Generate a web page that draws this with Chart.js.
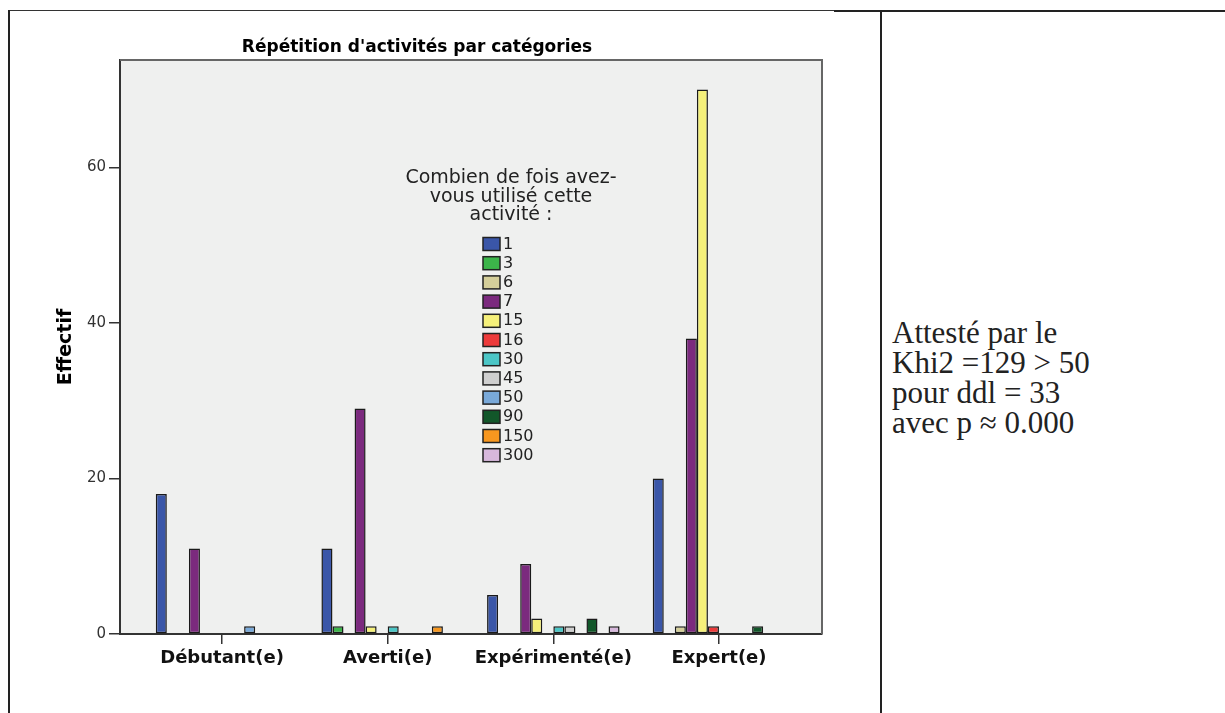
<!DOCTYPE html>
<html lang="fr">
<head>
  <meta charset="UTF-8">
  <title>Répétition d'activités par catégories</title>
  <script src="https://cdn.jsdelivr.net/npm/chart.js"></script>
  <style>
    body { margin: 0; background: #fff; width: 1225px; height: 713px; position: relative; overflow: hidden; }
    .line { position: absolute; background: #222; }
    #chart { position: absolute; left: 12px; top: 12px; }
    #note { position: absolute; left: 892px; top: 318px; font-family: 'Liberation Serif', serif; font-size: 31px; line-height: 30px; color: #222; }
  </style>
</head>
<body>
  <div class="line" style="left:10px;top:10px;width:824px;height:1px;background:#333"></div>
  <div class="line" style="left:834px;top:10px;width:391px;height:2px"></div>
  <div class="line" style="left:8px;top:10px;width:2px;height:703px"></div>
  <div class="line" style="left:880px;top:11px;width:2px;height:702px"></div>

  <canvas id="chart" width="820" height="700"></canvas>

  <div id="note">Attesté par le<br>Khi2 =129 &gt; 50<br>pour ddl = 33<br>avec p ≈ 0.000</div>

  <script>
    const categories = ['Débutant(e)', 'Averti(e)', 'Expérimenté(e)', 'Expert(e)'];
    const seriesNames = ['1', '3', '6', '7', '15', '16', '30', '45', '50', '90', '150', '300'];

    const s1 = [18, 11, 5, 20];
    const s3 = [0, 1, 0, 0];
    const s6 = [0, 0, 0, 1];
    const s7 = [11, 29, 9, 38];
    const s15 = [0, 1, 2, 70];
    const s16 = [0, 0, 0, 1];
    const s30 = [0, 1, 1, 0];
    const s45 = [0, 0, 1, 0];
    const s50 = [1, 0, 0, 0];
    const s90 = [0, 0, 2, 1];
    const s150 = [0, 1, 0, 0];
    const s300 = [0, 0, 1, 0];

    const yTicks = [0, 20, 40, 60];

    const seriesValues = [s1, s3, s6, s7, s15, s16, s30, s45, s50, s90, s150, s300];
    const colors = ['#3a56a8', '#3cb54a', '#d5cf9a', '#7b2a7e', '#f5f07a', '#ec3a3a',
                    '#4cc6c6', '#cfcfcf', '#79a9d9', '#12572a', '#f7971f', '#d7b8dc'];

    // fond gris, cadre haut/droite et légende dessinée dans la zone du graphique
    const frame = {
      id: 'frame',
      beforeDraw(chart) {
        const { ctx, chartArea: a } = chart;
        ctx.save();
        ctx.fillStyle = '#eff0ef';
        ctx.fillRect(a.left, a.top, a.right - a.left, a.bottom - a.top);
        ctx.restore();
      },
      afterDraw(chart) {
        const { ctx, chartArea: a } = chart;
        ctx.save();
        ctx.strokeStyle = '#666';
        ctx.lineWidth = 2;
        ctx.beginPath();
        ctx.moveTo(a.left, a.top);
        ctx.lineTo(a.right, a.top);
        ctx.lineTo(a.right, a.bottom);
        ctx.stroke();

        // légende
        ctx.fillStyle = '#222';
        ctx.font = '19px "DejaVu Sans"';
        ctx.textAlign = 'center';
        ctx.textBaseline = 'alphabetic';
        ['Combien de fois avez-', 'vous utilisé cette', 'activité :'].forEach((t, i) => {
          ctx.fillText(t, 499, 171 + i * 18.7);
        });
        ctx.font = '16px "DejaVu Sans"';
        ctx.textAlign = 'left';
        ctx.textBaseline = 'middle';
        chart.data.datasets.forEach((ds, i) => {
          const y = 225.5 + i * 19.2;
          ctx.fillStyle = ds.backgroundColor;
          ctx.fillRect(471, y, 17, 13);
          ctx.strokeStyle = '#222';
          ctx.lineWidth = 1.5;
          ctx.strokeRect(471, y, 17, 13);
          ctx.fillStyle = '#222';
          ctx.fillText(ds.label, 491, y + 7);
        });
        ctx.restore();
      }
    };

    new Chart(document.getElementById('chart').getContext('2d'), {
      type: 'bar',
      data: {
        labels: categories.map((_, i) => i),
        datasets: seriesNames.map((name, i) => ({
          label: name,
          data: seriesValues[i],
          backgroundColor: colors[i],
          borderColor: '#1a1a1a',
          borderWidth: 1.5,
          borderSkipped: false
        }))
      },
      options: {
        responsive: false,
        animation: false,
        layout: { padding: { left: 0, right: 10, top: 0, bottom: 0 } },
        datasets: { bar: { categoryPercentage: 0.8, barPercentage: 1 } },
        scales: {
          x: {
            type: 'linear',
            min: -0.616,
            max: 3.622,
            offset: false,
            afterBuildTicks: s => { s.ticks = categories.map((_, i) => ({ value: i })); },
            afterFit: s => { s.height = 78; },
            grid: { offset: false, drawOnChartArea: false, drawTicks: true, tickLength: 10, color: '#333', lineWidth: 1.5 },
            border: { color: '#333', width: 2 },
            ticks: {
              padding: 4,
              color: '#111',
              font: { family: 'DejaVu Sans', weight: 'bold', size: 18 },
              callback: v => categories[v]
            }
          },
          y: {
            min: 0,
            max: 73.8,
            afterBuildTicks: s => { s.ticks = yTicks.map(v => ({ value: v })); },
            afterFit: s => { s.width = 108; },
            grid: { drawOnChartArea: false, drawTicks: true, tickLength: 11, color: '#333', lineWidth: 1.5 },
            border: { color: '#333', width: 2 },
            ticks: { padding: 3, color: '#333', font: { family: 'DejaVu Sans', size: 15 } },
            title: {
              display: true,
              text: 'Effectif',
              color: '#000',
              padding: { top: 43, bottom: 0 },
              font: { family: 'DejaVu Sans', weight: 'bold', size: 19 }
            }
          }
        },
        plugins: {
          legend: { display: false },
          tooltip: { enabled: false },
          title: {
            display: true,
            text: "Répétition d'activités par catégories",
            color: '#000',
            padding: { top: 25, bottom: 2.6 },
            font: { family: 'DejaVu Sans', weight: 'bold', size: 17 }
          }
        }
      },
      plugins: [frame]
    });
  </script>
</body>
</html>
